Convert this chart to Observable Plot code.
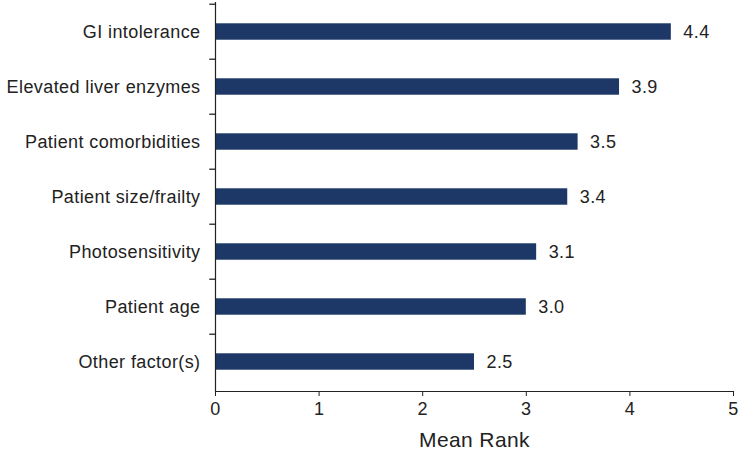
<!DOCTYPE html>
<html>
<head>
<meta charset="utf-8">
<script src="https://cdn.jsdelivr.net/npm/d3@7"></script>
<script src="https://cdn.jsdelivr.net/npm/@observablehq/plot@0.6"></script>
<style>
  html, body { margin: 0; padding: 0; background: #fff; }
  #chart svg { font-family: "Liberation Sans", Arial, sans-serif; }
  #chart svg text { letter-spacing: 0.4px; }
</style>
</head>
<body>
<div id="chart"></div>
<script>
const categories = ["GI intolerance", "Elevated liver enzymes", "Patient comorbidities", "Patient size/frailty", "Photosensitivity", "Patient age", "Other factor(s)"];
const meanRank = [4.4, 3.9, 3.5, 3.4, 3.1, 3.0, 2.5];
const xTicks = [0, 1, 2, 3, 4, 5];
const xLabel = "Mean Rank";

const data = categories.map((c, i) => ({category: c, value: meanRank[i]}));
const barColor = "#1d3867";
const ink = "#222";
const W = 750, H = 461;
const marginTop = 2, marginBottom = 70;
const bandH = (H - marginTop - marginBottom) / categories.length;
const barH = 17;

const chart = Plot.plot({
  width: W,
  height: H,
  marginLeft: 215,
  marginRight: 17,
  marginTop,
  marginBottom,
  style: {fontFamily: "Liberation Sans, Arial, sans-serif", fontSize: "18px", color: ink, background: "#fff"},
  x: {domain: [0, 5], label: null},
  y: {domain: categories, padding: 0, label: null},
  marks: [
    Plot.barX(data, {x: "value", y: "category", fill: barColor, insetTop: (bandH - barH) / 2, insetBottom: (bandH - barH) / 2}),
    Plot.text(data, {x: "value", y: "category", text: d => d.value.toFixed(1), textAnchor: "start", dx: 12, fontSize: 18, fill: ink}),
    Plot.axisY({tickSize: 0, tickPadding: 15, fontSize: 18, label: null, fill: ink}),
    // boundary ticks on the y axis (between categories)
    Plot.ruleY(categories, {y: d => d, x1: -0.055, x2: 0.003, dy: -bandH / 2, stroke: ink, strokeWidth: 1.3, clip: false}),
    Plot.ruleX([0], {stroke: ink, strokeWidth: 1.2}),
    Plot.frame({anchor: "bottom", stroke: ink, strokeWidth: 1.2}),
    Plot.axisX({ticks: xTicks, tickFormat: d => String(d), tickSize: 5, tickPadding: 6, fontSize: 18, label: null, stroke: ink, fill: ink}),
    Plot.text([xLabel], {frameAnchor: "bottom", dy: 55, fontSize: 21, fill: ink})
  ]
});
document.getElementById("chart").appendChild(chart);
</script>
</body>
</html>
